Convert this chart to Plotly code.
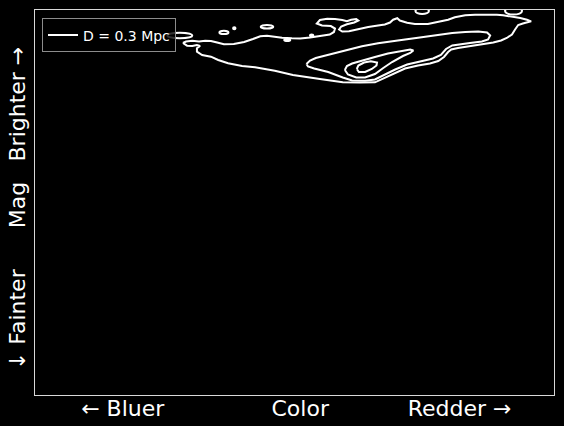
import plotly.graph_objects as go

# ---- data (colour index 0-100, magnitude 0-100 with brighter = smaller) ----
outer_x = [28.5, 29.1, 30.3, 31.6, 32.8, 33.9, 35.1, 36.4, 38.3, 40.3,
           42.0, 43.4, 44.7, 46.1, 47.6, 49.5, 51.1, 53.0, 55.3, 56.8,
           57.6, 57.8, 57.0, 55.3, 54.3, 54.9, 56.3, 57.8, 59.2, 60.1,
           60.9, 61.9, 62.3, 61.5, 60.1, 59.0, 58.6, 59.2, 60.5, 62.2,
           64.2, 66.1, 67.4, 68.4, 69.0, 69.8, 70.3, 71.7, 73.2, 75.7,
           77.7, 79.6, 80.9, 82.9, 84.8, 86.3, 87.7, 89.0, 90.2, 91.5,
           93.5, 94.8, 95.6,
           94.0, 93.1, 92.5, 91.9, 90.9, 89.8, 88.3, 86.3, 85.0, 83.8,
           81.5, 80.2, 79.6, 78.8, 77.7, 76.1, 73.8, 71.3, 69.4, 67.4,
           65.5, 62.6, 59.3, 54.9, 49.7, 46.2, 44.9, 42.4, 39.9, 37.2,
           35.3, 33.9, 32.2, 31.2, 31.2, 31.8, 31.2, 30.3, 29.3, 28.5]
outer_mag = [8.57, 8.18, 8.00, 8.18, 8.00, 8.05, 8.44, 8.88, 8.83, 8.31,
             7.53, 6.83, 6.70, 6.96, 7.22, 7.35, 7.40, 7.14, 6.75, 6.36,
             5.71, 4.81, 4.16, 4.03, 3.51, 2.60, 2.29, 2.34, 2.60, 2.91,
             2.55, 2.34, 2.73, 3.25, 3.69, 4.29, 5.06, 5.58, 5.53, 4.94,
             4.42, 4.03, 3.77, 3.25, 2.52, 2.13, 2.73, 3.32, 3.64, 3.64,
             3.12, 2.52, 1.90, 1.38, 1.22, 1.22, 1.04, 1.22, 1.38, 1.64,
             2.08, 2.52, 2.94,
             3.51, 3.90, 5.06, 6.36, 7.27, 7.92, 8.44, 8.83, 9.09, 9.48,
             9.87, 10.26, 10.91, 12.21, 13.25, 13.90, 14.42, 15.19, 16.36, 17.66,
             18.78, 18.83, 18.78, 17.92, 16.88, 15.77, 15.40, 14.88, 14.55, 13.84,
             12.99, 12.13, 11.69, 10.83, 9.95, 9.35, 9.09, 9.35, 9.27, 8.57]

tongue_x = [52.3, 53.0, 54.1, 56.5, 59.7, 63.0, 66.1, 68.8, 71.3, 73.8,
            77.1, 80.4, 82.9, 85.4, 87.1, 87.7, 87.3, 86.1, 83.8, 81.5,
            80.4, 79.2, 78.2, 76.7, 74.2, 71.7, 69.4, 67.4, 65.5, 63.6,
            61.1, 59.3, 56.5, 53.8, 52.6, 52.3]
tongue_mag = [14.03, 13.12, 12.47, 11.61, 10.52, 9.43, 8.62, 8.05, 7.66, 7.22,
              6.57, 5.97, 5.71, 5.58, 5.84, 6.62, 7.66, 8.18, 8.57, 8.96,
              9.22, 10.13, 11.69, 12.60, 13.38, 14.16, 15.45, 16.75, 18.05, 18.39,
              18.31, 17.53, 16.10, 15.19, 14.68, 14.03]

mid_x = [59.7, 60.1, 61.1, 63.0, 65.5, 68.0, 70.3, 72.3, 72.9, 72.3,
         70.9, 68.8, 67.1, 65.5, 63.6, 61.9, 60.3, 59.7]
mid_mag = [15.58, 14.55, 13.90, 13.12, 12.21, 11.30, 10.65, 10.26, 10.52, 11.17,
           11.95, 13.51, 15.06, 16.62, 17.53, 17.53, 16.75, 15.58]

core_x = [62.0, 62.3, 63.4, 64.7, 65.9, 65.8, 64.9, 63.6, 62.4, 62.0]
core_mag = [15.32, 14.42, 13.64, 13.32, 13.64, 14.42, 15.32, 16.10, 16.10, 15.32]

# small isolated islands: centre colour, centre mag, half-width, half-height
blob_x = [27.9, 36.4, 38.4, 44.7, 48.6, 53.3, 74.6, 92.2]
blob_mag = [6.62, 5.84, 4.75, 4.34, 7.79, 6.60, 0.26, 0.26]
blob_dx = [2.41, 0.87, 0.23, 1.21, 0.58, 0.33, 1.30, 1.64]
blob_dy = [0.73, 0.42, 0.26, 0.47, 0.29, 0.26, 0.80, 0.94]

x_tickvals = [16.9, 51.1, 81.8]
x_ticktext = ["\u2190 Bluer", "Color", "Redder \u2192"]
y_tickvals = [25.3, 51.5, 81.3]
y_ticktext = ["Brighter \u2192", "Mag", "\u2193 Fainter"]

legend_label = "D = 0.3 Mpc"

# ---- figure ----
xs, ys = [], []
for px, py in [(outer_x, outer_mag), (tongue_x, tongue_mag), (mid_x, mid_mag), (core_x, core_mag)]:
    xs += list(px) + [None]
    ys += list(py) + [None]

fig = go.Figure()
fig.add_trace(go.Scatter(x=xs, y=ys, mode="lines", name=legend_label,
                         line=dict(color="white", width=2), connectgaps=False,
                         hoverinfo="skip"))

shapes = []
for cx, cy, dx, dy in zip(blob_x, blob_mag, blob_dx, blob_dy):
    shapes.append(dict(type="circle", xref="x", yref="y",
                       x0=cx - dx, x1=cx + dx, y0=cy - dy, y1=cy + dy,
                       line=dict(color="white", width=2), layer="above"))

axis_common = dict(showgrid=False, zeroline=False, showline=True, mirror=True,
                   linecolor="#d9d9d9", linewidth=1, ticks="", automargin=False,
                   tickfont=dict(size=22, color="white", family="DejaVu Sans"))

fig.update_layout(
    width=564, height=426,
    margin=dict(l=35, r=10, t=10, b=31),
    paper_bgcolor="black", plot_bgcolor="black",
    font=dict(family="DejaVu Sans", color="white"),
    shapes=shapes,
    showlegend=True,
    legend=dict(x=0.0135, y=0.978, xanchor="left", yanchor="top",
                bgcolor="rgba(0,0,0,0.8)", bordercolor="#8c8c8c", borderwidth=1,
                font=dict(size=14, color="white", family="DejaVu Sans")),
    xaxis=dict(range=[0, 100], tickvals=x_tickvals, ticktext=x_ticktext,
               ticklabelstandoff=-6, **axis_common),
    yaxis=dict(range=[100, 0], tickvals=y_tickvals, ticktext=y_ticktext,
               tickangle=-90, **axis_common),
)

fig.write_html("out.html")
